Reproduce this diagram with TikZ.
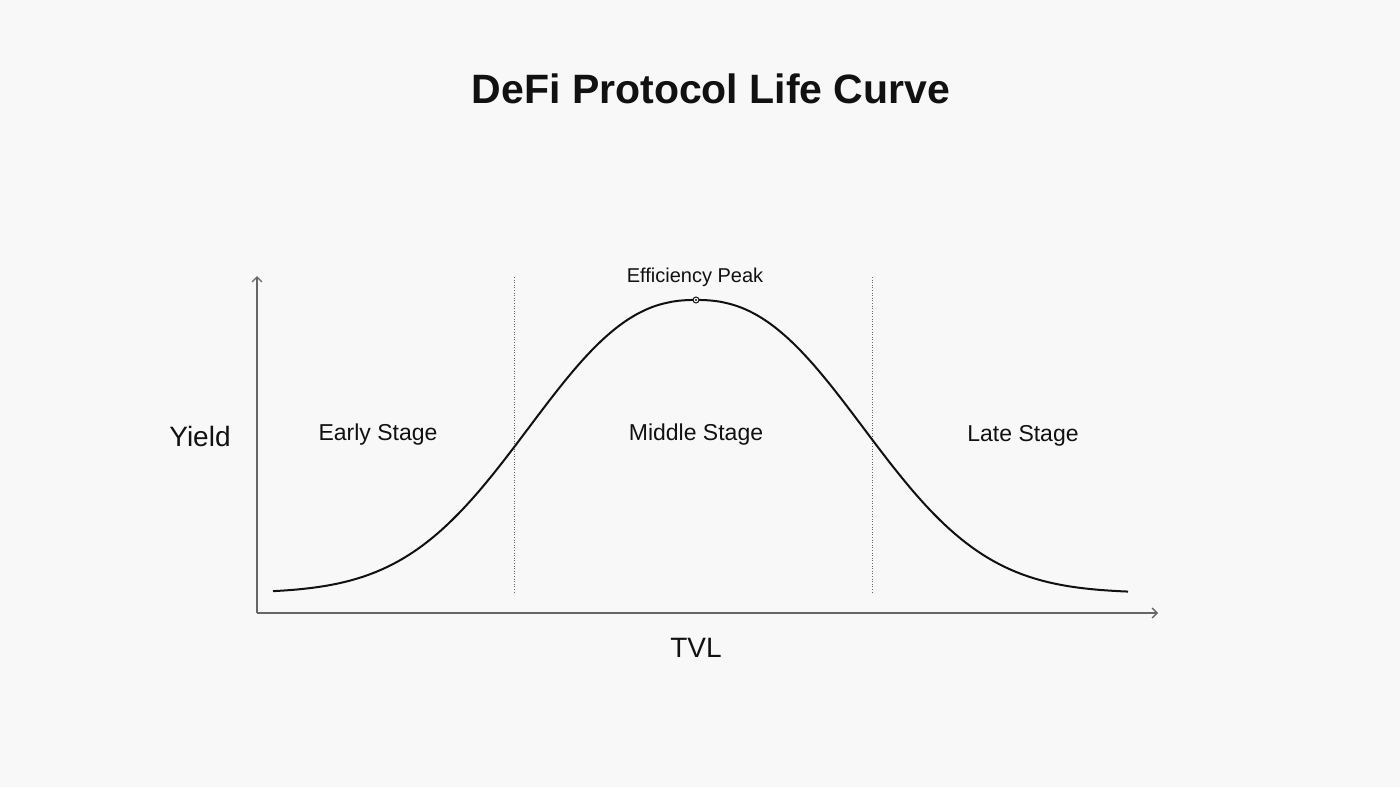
\documentclass[tikz,border=0pt]{standalone}
\usepackage{fontspec}
\setmainfont{Liberation Sans}
\usetikzlibrary{arrows.meta}
\definecolor{bg}{HTML}{F8F8F8}
\definecolor{ax}{HTML}{666666}
\definecolor{ink}{HTML}{111111}
\begin{document}
\begin{tikzpicture}[x=1pt,y=-1pt,
  lbl/.style={font=\fontsize{23}{27}\selectfont,text=ink},
  axisline/.style={draw=ax,line width=1.3pt,-{Straight Barb[length=5pt,width=10pt]}},
  divider/.style={draw=ax,dotted,line width=0.6pt}]
\fill[bg] (0,0) rectangle (1400,787);
\useasboundingbox (0,0) rectangle (1400,787);
\node[font=\fontsize{41}{46}\selectfont\bfseries,text=ink] (title) at (711,89) {DeFi Protocol Life Curve};
\coordinate (o) at (257,613);
\coordinate (ytop) at (257,276);
\coordinate (xend) at (1158,613);
\draw[axisline] (o) -- (ytop);
\draw[axisline] (o) -- (xend);
\draw[divider] (514,277) -- (514,592);
\draw[divider] (872,277) -- (872,592);
\draw[ink,line width=2pt,smooth] plot[domain=273:1128,samples=220] (\x,{593-293*exp(-pow(abs(\x-696)/212,2.35))});
\node[circle,draw=ink,fill=bg,line width=1pt,inner sep=0pt,minimum size=6pt] (peak) at (696,300) {};
\fill[ink] (peak) circle (1.2pt);
\node[font=\fontsize{20}{24}\selectfont,text=ink] (peaklbl) at (695,277) {Efficiency Peak};
\node[lbl] (early) at (378,435) {Early Stage};
\node[lbl] (middle) at (696,435) {Middle Stage};
\node[lbl] (late) at (1023,436) {Late Stage};
\node[font=\fontsize{28}{32}\selectfont,text=ink] (ylbl) at (200,436) {Yield};
\node[font=\fontsize{28}{32}\selectfont,text=ink] (xlbl) at (696,648) {TVL};
\end{tikzpicture}
\end{document}
